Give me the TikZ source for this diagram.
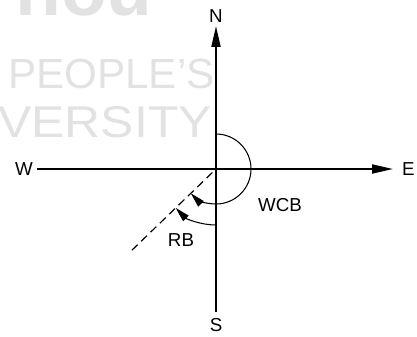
\documentclass[tikz,border=0pt]{standalone}
\usepackage{fontspec}
\setmainfont{Liberation Sans}
\usepackage{tikz}
\usetikzlibrary{positioning, arrows.meta}
\definecolor{markgrey}{RGB}{226, 226, 226}

\begin{document}
\begin{tikzpicture}[x=0.3mm, y=0.3mm, every node/.style={font=\fontsize{16}{19}\selectfont, inner sep=0pt},
    axis/.style={line width=1.6pt, -{Triangle[length=6.3mm, width=2.7mm]}},
    bearing/.style={line width=0.9pt, -{Triangle[length=4.4mm, width=2.3mm]}}]
    \useasboundingbox (-216,-167) rectangle (201,169);

    % faint watermark behind the figure
    \begin{scope}
        \clip (-216,-167) rectangle (201,169);
        \node [anchor=base west, text=markgrey, font=\bfseries\fontsize{64}{64}\selectfont] (mark1) at (-201,153) {nou};
        \node [anchor=base west, text=markgrey, font=\fontsize{36}{40}\selectfont] (mark2) at (-208,80) {PEOPLE’S};
        \node [anchor=base east, text=markgrey, font=\fontsize{38}{42}\selectfont, xscale=1.12, transform shape] (mark3) at (-4,32) {VERSITY};
    \end{scope}

    \coordinate (O) at (0,0);
    \coordinate (n) at (0,143);
    \coordinate (s) at (0,-143);
    \coordinate (e) at (177,0);
    \coordinate (w) at (-179,0);

    \node [above=0.9mm of n] (N) {N};
    \node [below=1.8mm of s] (S) {S};
    \node [left=1.2mm of w] (W) {W};
    \node [right=2.7mm of e] (E) {E};

    \draw [axis] (s) -- (n);
    \draw [axis] (w) -- (e);

    % line of sight
    \coordinate (d1) at (224:5);
    \coordinate (d2) at (224:117);
    \draw [line width=1pt, dash pattern=on 2.4mm off 1.5mm] (d1) -- (d2);

    % bearings
    \coordinate (wcb0) at (0,35);
    \coordinate (rb0) at (0,-56);
    \draw [bearing] (wcb0) arc [start angle=90, end angle=-136, radius=35];
    \draw [bearing] (rb0) arc [start angle=270, end angle=224, radius=56];

    \node (WCB) at (64,-36) {WCB};
    \node (RB) at (-35,-71) {RB};
\end{tikzpicture}
\end{document}
